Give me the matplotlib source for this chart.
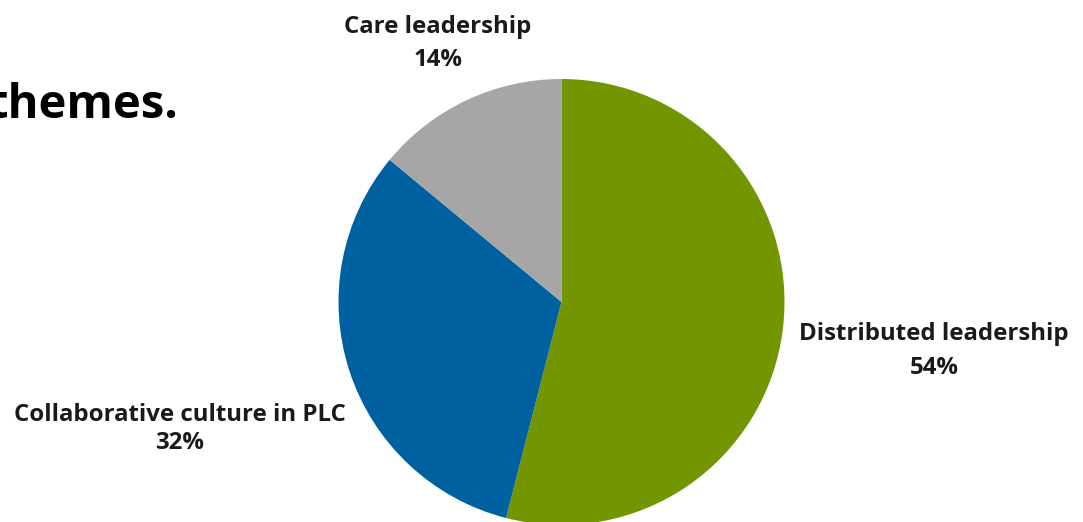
import matplotlib
matplotlib.use("Agg")
import matplotlib.pyplot as plt

categories = ["Distributed leadership", "Collaborative culture in PLC", "Care leadership"]
values = [54, 32, 14]
colors = ["#739600", "#0061A0", "#A6A6A6"]

W, H = 1083, 522
plt.rcParams['font.family'] = ['Open Sans', 'DejaVu Sans']
fig = plt.figure(figsize=(W / 100, H / 100), dpi=100)
ax = fig.add_axes([0, 0, 1, 1])

cx, cy, r = 561.5, H - 302, 223
ax.pie(values, colors=colors, startangle=90, counterclock=False,
       center=(cx, cy), radius=r, frame=True,
       wedgeprops=dict(linewidth=0))
ax.set_xlim(0, W)
ax.set_ylim(0, H)
ax.set_aspect('equal')
ax.axis('off')

# (center x, baseline of name line, baseline of percent line) in pixels from top
label_pos = {
    "Distributed leadership": (934, 340, 374),
    "Collaborative culture in PLC": (180, 421, 449),
    "Care leadership": (438, 33, 66),
}
for cat, v in zip(categories, values):
    x, y1, y2 = label_pos[cat]
    ax.text(x, H - y1, cat, ha='center', va='baseline', fontsize=17.3,
            fontweight='bold', color='#1a1a1a')
    ax.text(x, H - y2, f"{v}%", ha='center', va='baseline', fontsize=17.3,
            fontweight='bold', color='#1a1a1a')

ax.text(179, H - 118, "themes.", ha='right', va='baseline', fontsize=34,
        fontweight='bold', color='black')

fig.savefig("out.png", dpi=100)
